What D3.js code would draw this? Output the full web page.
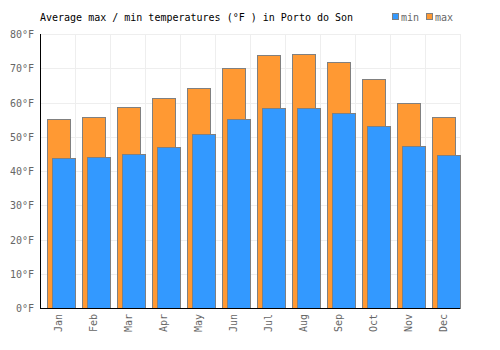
<!DOCTYPE html>
<html>
<head>
<meta charset="utf-8">
<script src="https://cdn.jsdelivr.net/npm/d3@7"></script>
<style>
  body { margin: 0; background: #fff; }
  text { font-family: "DejaVu Sans Mono", monospace; }
</style>
</head>
<body>
<div id="chart"></div>
<script>
const months = ["Jan", "Feb", "Mar", "Apr", "May", "Jun", "Jul", "Aug", "Sep", "Oct", "Nov", "Dec"];
const maxTemps = [55.1, 55.7, 58.6, 61.2, 64.2, 70.0, 73.8, 74.1, 71.7, 66.8, 59.8, 55.7];
const minTemps = [43.7, 44.0, 44.9, 46.9, 50.7, 55.1, 58.3, 58.3, 56.8, 53.0, 47.3, 44.7];
const yTicks = [0, 10, 20, 30, 40, 50, 60, 70, 80];

(function () {
  const width = 500, height = 350;
  const margin = { top: 34, right: 40, bottom: 42, left: 40 };
  const svg = d3.select("#chart").append("svg")
    .attr("width", width)
    .attr("height", height);

  const x = d3.scaleBand().domain(months).range([margin.left, width - margin.right]);
  const y = d3.scaleLinear().domain([0, 80]).range([height - margin.bottom, margin.top]);

  // grid
  const grid = svg.append("g").attr("stroke", "#eeeeee").attr("stroke-width", 1);
  grid.selectAll("line.h").data(yTicks).join("line")
    .attr("x1", margin.left).attr("x2", width - margin.right)
    .attr("y1", d => Math.round(y(d)) + 0.5).attr("y2", d => Math.round(y(d)) + 0.5);
  grid.selectAll("line.v").data(months.concat(["end"])).join("line")
    .attr("x1", (d, i) => Math.round(margin.left + i * x.bandwidth()) + 0.5)
    .attr("x2", (d, i) => Math.round(margin.left + i * x.bandwidth()) + 0.5)
    .attr("y1", margin.top).attr("y2", height - margin.bottom);

  const bw = x.bandwidth();
  // max bars
  svg.append("g").selectAll("rect").data(maxTemps).join("rect")
    .attr("x", (d, i) => Math.round(x(months[i]) + bw * 0.19) + 0.5)
    .attr("y", d => Math.round(y(d)) + 0.5)
    .attr("width", Math.round(bw * 0.65))
    .attr("height", d => y(0) - Math.round(y(d)))
    .attr("fill", "#ff9933")
    .attr("stroke", "#808080");
  // min bars
  svg.append("g").selectAll("rect").data(minTemps).join("rect")
    .attr("x", (d, i) => Math.round(x(months[i]) + bw * 0.33) + 0.5)
    .attr("y", d => Math.round(y(d)) + 0.5)
    .attr("width", Math.round(bw * 0.67))
    .attr("height", d => y(0) - Math.round(y(d)))
    .attr("fill", "#3399ff")
    .attr("stroke", "#808080");

  // axes lines
  svg.append("line")
    .attr("x1", margin.left + 0.5).attr("x2", margin.left + 0.5)
    .attr("y1", margin.top).attr("y2", y(0) + 0.5)
    .attr("stroke", "#000");
  svg.append("line")
    .attr("x1", margin.left).attr("x2", width - margin.right)
    .attr("y1", y(0) + 0.5).attr("y2", y(0) + 0.5)
    .attr("stroke", "#000");

  // y labels
  svg.append("g").selectAll("text").data(yTicks).join("text")
    .attr("x", margin.left - 6)
    .attr("y", d => y(d) + 4)
    .attr("text-anchor", "end")
    .attr("font-size", 10)
    .attr("fill", "#666")
    .text(d => d + "°F");

  // x labels
  svg.append("g").selectAll("text").data(months).join("text")
    .attr("transform", d => `translate(${x(d) + bw / 2 + 4},${y(0) + 6}) rotate(-90)`)
    .attr("text-anchor", "end")
    .attr("font-size", 10)
    .attr("fill", "#666")
    .text(d => d);

  // title
  svg.append("text")
    .attr("x", margin.left)
    .attr("y", 21)
    .attr("font-size", 10)
    .attr("fill", "#000")
    .text("Average max / min temperatures (°F ) in Porto do Son");

  // legend
  const legend = [["min", "#3399ff", 392], ["max", "#ff9933", 426]];
  legend.forEach(([label, c, lx]) => {
    svg.append("rect")
      .attr("x", lx + 0.5).attr("y", 13.5)
      .attr("width", 6).attr("height", 6)
      .attr("fill", c).attr("stroke", "#808080");
    svg.append("text")
      .attr("x", lx + 9).attr("y", 21)
      .attr("font-size", 10)
      .attr("fill", "#666")
      .text(label);
  });
})();
</script>
</body>
</html>
